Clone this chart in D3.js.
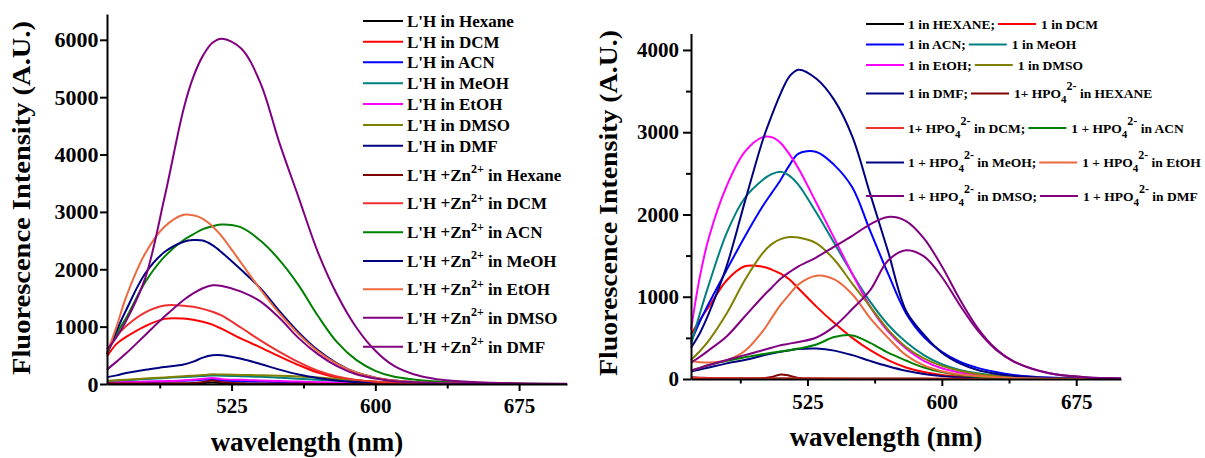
<!DOCTYPE html>
<html>
<head>
<meta charset="utf-8">
<script src="https://cdn.jsdelivr.net/npm/d3@7"></script>
<style>
  body { margin: 0; background: #fff; }
  svg text { font-family: "Liberation Serif", "Times New Roman", serif; font-weight: bold; fill: #000; }
</style>
</head>
<body>
<svg id="chart" width="1205" height="458"></svg>
<script>
// Wavelength grid (nm) shared by every emission spectrum
const wavelength = [460,465,470,480,490,500,505,510,515,520,530,540,550,560,570,580,590,600,610,620,630,640,660,680,700];

// ---- Panel A: L'H alone and with Zn2+ ----
const lhHexane = [8,8,8,8,8,10,12,18,28,15,8,6,5,4,3,3,2,2,2,1,1,1,1,1,1];
const lhDCM    = [480,700,820,1010,1135,1140,1120,1085,1035,960,790,640,480,330,200,115,65,38,22,13,8,5,2,1,0];
const lhACN    = [20,25,30,38,45,55,62,72,80,60,50,42,35,27,20,14,10,6,4,3,2,1,1,0,0];
const lhMeOH   = [45,55,65,85,105,122,130,140,150,145,135,125,110,92,72,52,36,24,15,10,6,4,2,1,0];
const lhEtOH   = [20,25,30,40,50,62,72,90,105,85,72,62,52,42,32,22,14,9,6,4,2,1,1,0,0];
const lhDMSO   = [55,65,75,95,115,135,145,155,170,165,158,152,145,132,112,88,62,40,24,14,8,5,2,1,0];
const lhDMF    = [120,150,190,250,295,340,390,460,500,500,440,350,250,165,105,60,33,18,10,6,3,2,1,0,0];
const znHexane = [12,10,8,8,8,10,15,35,60,30,10,6,4,3,2,2,1,1,1,0,0,0,0,0,0];
const znDCM    = [540,830,1010,1250,1370,1365,1345,1310,1260,1190,980,760,560,380,230,130,72,40,24,14,8,5,2,1,0];
const znACN    = [520,880,1150,1780,2220,2510,2610,2700,2750,2780,2730,2500,2160,1720,1190,730,420,230,125,80,50,32,14,5,2];
const znMeOH   = [520,930,1290,1930,2300,2480,2510,2500,2420,2290,1990,1670,1270,900,590,360,200,110,60,35,20,12,5,2,0];
const znEtOH   = [540,1000,1520,2280,2740,2950,2940,2880,2750,2570,2110,1650,1230,870,570,350,200,110,60,35,20,12,5,2,0];
const znDMSO   = [250,390,535,855,1175,1465,1580,1670,1720,1710,1610,1440,1150,800,520,310,170,95,50,30,18,10,4,1,0];
const znDMF    = [600,820,1100,1850,3250,4800,5350,5720,5950,6020,5850,5250,4200,3250,2300,1560,990,580,310,170,95,55,20,8,3];

const leftLabels = [
  "L'H in Hexane", "L'H in DCM", "L'H in ACN", "L'H in MeOH", "L'H in EtOH", "L'H in DMSO", "L'H in DMF",
  "L'H +Zn^{2+} in Hexane", "L'H +Zn^{2+} in DCM", "L'H +Zn^{2+} in ACN", "L'H +Zn^{2+} in MeOH",
  "L'H +Zn^{2+} in EtOH", "L'H +Zn^{2+} in DMSO", "L'H +Zn^{2+} in DMF"
];
const leftColors = ["#000000","#ff0000","#0000ff","#008080","#ff00ff","#808000","#000080",
                    "#800000","#f03030","#008000","#000080","#ec6a40","#800080","#800080"];
const leftValues = [lhHexane, lhDCM, lhACN, lhMeOH, lhEtOH, lhDMSO, lhDMF,
                    znHexane, znDCM, znACN, znMeOH, znEtOH, znDMSO, znDMF];

// ---- Panel B: 1 alone and with HPO4 2- ----
const r1Hexane = [8,6,5,5,5,5,5,5,5,5,4,4,3,3,2,2,2,1,1,1,1,1,0,0,0];
const r1DCM    = [540,720,880,1200,1370,1365,1330,1280,1210,1100,880,680,500,350,230,140,85,50,30,18,10,6,2,1,0];
const r1ACN    = [450,700,920,1330,1730,2100,2260,2420,2600,2740,2760,2600,2330,1800,1280,800,510,330,210,135,85,50,17,5,2];
const r1MeOH   = [420,800,1150,1780,2200,2420,2490,2520,2470,2360,2020,1650,1280,940,660,450,290,180,110,70,42,25,9,3,1];
const r1EtOH   = [600,1250,1720,2350,2760,2940,2940,2870,2730,2560,2140,1710,1280,880,580,370,220,130,80,50,32,20,8,3,1];
const r1DMSO   = [230,340,470,800,1200,1530,1640,1700,1725,1720,1650,1450,1160,880,600,390,250,160,100,60,38,25,10,4,1];
const r1DMF    = [90,115,140,190,230,285,310,330,350,365,370,345,290,220,155,100,60,35,18,10,6,3,1,0,0];
const hpHexane = [20,15,12,8,6,8,25,55,40,12,5,3,2,2,2,2,2,2,1,1,1,1,0,0,0];
const hpDCM    = [15,12,10,8,6,6,6,6,6,6,5,5,4,4,3,3,2,2,2,1,1,1,0,0,0];
const hpACN    = [100,135,170,220,265,300,318,335,350,370,420,510,530,440,320,225,140,85,50,28,16,9,3,1,0];
const hpMeOH   = [380,560,800,1380,2150,2900,3200,3470,3680,3760,3650,3390,2950,2250,1550,830,540,320,190,110,65,38,13,4,1];
const hpEtOH   = [220,205,200,230,340,580,740,900,1030,1150,1255,1210,1030,740,500,290,165,95,55,35,22,12,4,1,0];
const hpDMSO   = [200,270,350,520,760,1000,1110,1220,1300,1370,1480,1610,1740,1880,1970,1920,1710,1370,970,620,370,215,70,22,7];
const hpDMF    = [100,135,170,230,290,350,380,410,430,450,505,640,850,1080,1440,1565,1490,1240,900,590,360,215,70,22,7];

const rightLabels = [
  "1 in HEXANE;", "1 in DCM", "1 in ACN;", "1 in MeOH", "1 in EtOH;", "1 in DMSO",
  "1 in DMF;", "1+ HPO_{4}^{2-} in HEXANE", "1+ HPO_{4}^{2-} in DCM;", "1 + HPO_{4}^{2-} in ACN",
  "1 + HPO_{4}^{2-} in MeOH;", "1 + HPO_{4}^{2-} in EtOH", "1 + HPO_{4}^{2-} in DMSO;", "1 + HPO_{4}^{2-} in DMF"
];
const rightColors = ["#000000","#ff0000","#0000ff","#008080","#ff00ff","#808000","#000080",
                     "#800000","#f03030","#008000","#000080","#ec6a40","#800080","#800080"];
const rightValues = [r1Hexane, r1DCM, r1ACN, r1MeOH, r1EtOH, r1DMSO, r1DMF,
                     hpHexane, hpDCM, hpACN, hpMeOH, hpEtOH, hpDMSO, hpDMF];

// Axis ticks
const xMajorTicks = [525, 600, 675];
const xMinorTicks = [487.5, 562.5, 637.5];
const leftYTicks = [0, 1000, 2000, 3000, 4000, 5000, 6000];
const rightYMajor = [0, 1000, 2000, 3000, 4000];
const rightYMinor = [500, 1500, 2500, 3500];

const xTitle = "wavelength (nm)";
const yTitle = "Fluorescence Intensity (A.U.)";

const svg = d3.select("#chart");

// Writes a label that may hold ^{sup} and _{sub} parts into a <text>
function richText(text, str, base, supSize, subSize, up, down) {
  const parts = str.split(/(\^\{[^}]*\}|_\{[^}]*\})/).filter(s => s.length);
  let cur = 0;
  parts.forEach(p => {
    let target = 0, size = base, content = p;
    if (p.startsWith("^{")) { target = -up; size = supSize; content = p.slice(2, -1); }
    else if (p.startsWith("_{")) { target = down; size = subSize; content = p.slice(2, -1); }
    text.append("tspan")
      .attr("dy", target - cur)
      .attr("font-size", size)
      .text(content);
    cur = target;
  });
}

function drawPanel(cfg) {
  const g = svg.append("g");
  const x = d3.scaleLinear().domain([460, 700]).range(cfg.xRange);
  const y = d3.scaleLinear().domain([0, cfg.yMax]).range(cfg.yRange);

  const line = d3.line()
    .x((d, i) => x(wavelength[i]))
    .y(d => y(Math.max(0, d)))
    .curve(d3.curveCatmullRom.alpha(0.5));

  g.append("g").selectAll("path")
    .data(cfg.values)
    .join("path")
    .attr("fill", "none")
    .attr("stroke", (d, i) => cfg.colors[i])
    .attr("stroke-width", 2)
    .attr("stroke-linejoin", "round")
    .attr("d", line);

  // x axis: minor ticks, then labelled major ticks with the axis line
  const xMinor = g.append("g").attr("transform", `translate(0,${cfg.yRange[0]})`)
    .call(d3.axisBottom(x).tickValues(xMinorTicks).tickSize(4.5).tickSizeOuter(0).tickFormat(""));
  xMinor.select(".domain").remove();
  const xMajor = g.append("g").attr("transform", `translate(0,${cfg.yRange[0]})`)
    .call(d3.axisBottom(x).tickValues(xMajorTicks).tickSize(7).tickSizeOuter(0).tickPadding(cfg.xPad).tickFormat(d3.format("d")));
  xMajor.selectAll("text").attr("font-size", cfg.tickFont).attr("font-family", null);

  // y axis
  if (cfg.yMinor) {
    const yMinor = g.append("g").attr("transform", `translate(${cfg.xRange[0]},0)`)
      .call(d3.axisLeft(y).tickValues(cfg.yMinor).tickSize(5).tickSizeOuter(0).tickFormat(""));
    yMinor.select(".domain").remove();
  }
  const yMajor = g.append("g").attr("transform", `translate(${cfg.xRange[0]},0)`)
    .call(d3.axisLeft(y).tickValues(cfg.yMajor).tickSize(cfg.yTick).tickSizeOuter(0).tickPadding(cfg.yPad).tickFormat(d3.format("d")));
  yMajor.selectAll("text").attr("font-size", cfg.yTickFont).attr("font-family", null);

  g.selectAll(".domain").attr("stroke", "#000").attr("stroke-width", 2);
  g.selectAll(".tick line").attr("stroke", "#000").attr("stroke-width", 2);

  // axis titles
  g.append("text")
    .attr("x", cfg.xTitlePos[0]).attr("y", cfg.xTitlePos[1])
    .attr("text-anchor", "middle").attr("font-size", 27)
    .text(xTitle);
  g.append("text")
    .attr("transform", `translate(${cfg.yTitlePos[0]},${cfg.yTitlePos[1]}) rotate(-90)`)
    .attr("text-anchor", "middle").attr("font-size", 25)
    .attr("textLength", cfg.yTitleLen).attr("lengthAdjust", "spacingAndGlyphs")
    .text(yTitle);
  return g;
}

// Panel A
const gA = drawPanel({
  xRange: [107, 567], yRange: [384, 14], yMax: 6450,
  values: leftValues, colors: leftColors,
  yMajor: leftYTicks, yMinor: null, yTick: 7, yPad: 1.5, xPad: 7, tickFont: 21, yTickFont: 22,
  xTitlePos: [307, 451], yTitlePos: [30, 198], yTitleLen: 354
});

// Panel B
const gB = drawPanel({
  xRange: [691, 1121], yRange: [379, 33.5], yMax: 4200,
  values: rightValues, colors: rightColors,
  yMajor: rightYMajor, yMinor: rightYMinor, yTick: 8, yPad: 4, xPad: 8, tickFont: 21, yTickFont: 21,
  xTitlePos: [886, 446], yTitlePos: [617, 203], yTitleLen: 346
});

// Legend of panel A: one entry per row
const legA = gA.append("g");
const leftRowsY = [21, 41.7, 62.3, 83.3, 104, 125, 145.7, 175, 203.3, 232.3, 261, 289.3, 317.7, 346.7];
leftLabels.forEach((lab, i) => {
  const yy = leftRowsY[i];
  legA.append("line").attr("x1", 363).attr("x2", 403).attr("y1", yy).attr("y2", yy)
    .attr("stroke", leftColors[i]).attr("stroke-width", 2);
  const t = legA.append("text").attr("x", 407).attr("y", yy + 5.8).attr("font-size", 17);
  richText(t, lab, 17, 12, 12, 7.5, 4);
});

// Legend of panel B: two entries per row
const legB = gB.append("g");
const rightRowsY = [24, 44.5, 65, 93.5, 128, 162.5, 196];
rightRowsY.forEach((yy, r) => {
  let xx = 866;
  [2 * r, 2 * r + 1].forEach((idx, k) => {
    if (k === 1) xx += 3;
    legB.append("line").attr("x1", xx).attr("x2", xx + 38).attr("y1", yy).attr("y2", yy)
      .attr("stroke", rightColors[idx]).attr("stroke-width", 2);
    const t = legB.append("text").attr("x", xx + 42 + (k === 1 ? 1 : 0)).attr("y", yy + 4.5).attr("font-size", 13.5);
    richText(t, rightLabels[idx], 13.5, 12, 11, 8, 5);
    const bb = t.node().getBBox();
    xx = bb.x + bb.width;
  });
});
</script>
</body>
</html>
